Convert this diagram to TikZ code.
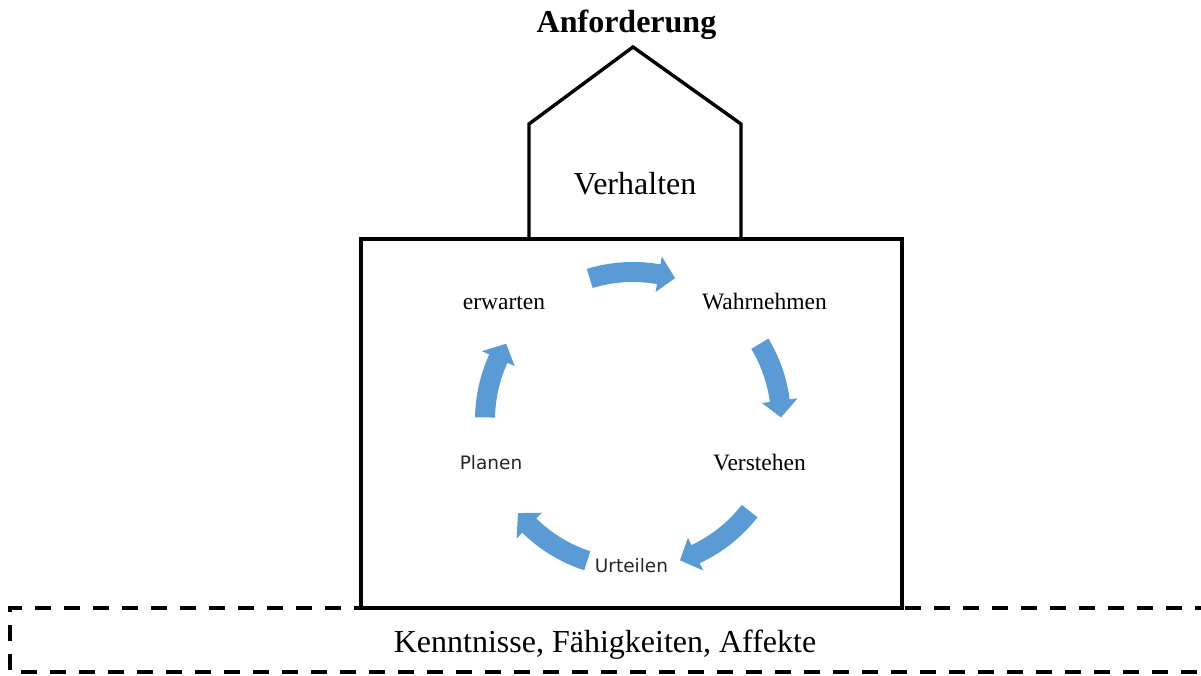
\documentclass[tikz,border=0pt]{standalone}
\usepackage{fontspec}
\setmainfont{Liberation Serif}
\newfontfamily\uisans{DejaVu Sans}
\usetikzlibrary{calc}

\definecolor{cycleblue}{HTML}{5B9BD5}
\definecolor{labelgray}{HTML}{262626}

\tikzset{
  outline/.style={draw=black, line width=3.4pt},
  dashbox/.style={draw=black, line width=3.4pt, dash pattern=on 16pt off 13pt, dash phase=1pt},
  bigtext/.style={font=\fontsize{32}{38}\selectfont, inner sep=0pt, anchor=base},
  titletext/.style={font=\fontsize{32}{38}\selectfont\bfseries, inner sep=0pt, anchor=base},
  steptext/.style={font=\fontsize{23.5}{28}\selectfont, inner sep=0pt, anchor=base},
  sanstext/.style={font=\uisans\fontsize{18.5}{22}\selectfont, text=labelgray, inner sep=0pt, anchor=base},
}

% curved block arrow around the centre (c): #1 = start angle, #2 = tip angle (clockwise)
\newcommand\cyclearrow[2]{%
  \pgfmathsetmacro\headbase{#2+6.5}%
  \fill[cycleblue]
    ($(c)+(#1:158)$) arc[start angle=#1, end angle=\headbase, radius=158pt]
    -- ($(c)+(\headbase:166)$)
    -- ($(c)+(#2:148)$)
    -- ($(c)+(\headbase:130)$)
    -- ($(c)+(\headbase:138)$) arc[start angle=\headbase, end angle=#1, radius=138pt]
    -- cycle;%
}

\begin{document}
\begin{tikzpicture}[x=1pt, y=1pt]
  \useasboundingbox (0,0) rectangle (1201,675);
  \clip (0,0) rectangle (1201,675);

  % base strip: knowledge, abilities, affects
  \draw[dashbox] (1210,67) -- (10,67) -- (10,3) -- (1210,3);
  \node[bigtext] (base) at (605,23) {Kenntnisse, Fähigkeiten, Affekte};

  % main block
  \draw[outline] (361,67) rectangle (902,436);

  % house on top
  \draw[outline] (529,436) -- (529,551) -- (633,628) -- (741,551) -- (741,436);
  \node[bigtext] (verhalten) at (635,480) {Verhalten};
  \node[titletext] (anf) at (626.5,642) {Anforderung};

  % cycle
  \coordinate (c) at (633,255);
  \cyclearrow{107}{73.5}
  \cyclearrow{31}{1}
  \cyclearrow{-38}{-71.5}
  \cyclearrow{-108}{-141}
  \cyclearrow{179}{149}

  \node[steptext] (wahr) at (764.5,365) {Wahrnehmen};
  \node[steptext] (erw) at (504,365) {erwarten};
  \node[steptext] (verst) at (759.5,205) {Verstehen};
  \node[sanstext] (plan) at (491,206) {Planen};
  \node[sanstext] (urt) at (631.5,103) {Urteilen};
\end{tikzpicture}
\end{document}
